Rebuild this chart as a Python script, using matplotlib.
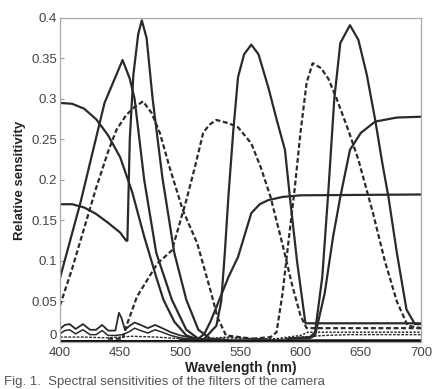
import matplotlib
matplotlib.use("Agg")
import matplotlib.pyplot as plt

plt.rcParams['font.family'] = ['Liberation Sans', 'DejaVu Sans']

# ---- data (wavelength nm, relative sensitivity) ----
a_x = [400, 410, 420, 430, 440, 450, 460, 470, 480, 486, 495, 505, 515, 530, 700]
a_y = [0.295, 0.294, 0.288, 0.275, 0.255, 0.228, 0.185, 0.13, 0.08, 0.052, 0.025, 0.008, 0.003, 0.002, 0.002]

b_x = [400, 410, 420, 430, 440, 450, 455, 456, 458, 461, 465, 468, 472, 477, 485, 495, 505, 515, 525, 540]
b_y = [0.17, 0.17, 0.166, 0.158, 0.147, 0.135, 0.125, 0.125, 0.25, 0.33, 0.38, 0.397, 0.375, 0.30, 0.204, 0.11, 0.052, 0.015, 0.004, 0.002]

c_x = [400, 417, 437, 452, 458, 462, 470, 480, 493, 505, 515, 530]
c_y = [0.079, 0.172, 0.295, 0.348, 0.325, 0.30, 0.20, 0.11, 0.052, 0.015, 0.004, 0.002]

d_x = [400, 410, 420, 430, 440, 447, 455, 462, 469, 476, 483, 491, 502, 514, 525, 531, 538, 560]
d_y = [0.045, 0.09, 0.14, 0.19, 0.235, 0.262, 0.28, 0.29, 0.297, 0.283, 0.258, 0.216, 0.163, 0.122, 0.064, 0.03, 0.008, 0.004]

e_x = [440, 452, 456, 464, 481, 493, 505, 512, 519, 524, 530, 540, 548, 559, 567, 575, 585, 593, 600, 605, 700]
e_y = [0.004, 0.004, 0.023, 0.056, 0.097, 0.113, 0.175, 0.215, 0.258, 0.268, 0.274, 0.27, 0.265, 0.245, 0.215, 0.179, 0.12, 0.07, 0.032, 0.017, 0.017]

f_x = [520, 530, 534, 537, 540, 544, 548, 553, 559, 565, 573, 580, 587, 591, 597, 604, 700]
f_y = [0.004, 0.02, 0.05, 0.11, 0.18, 0.26, 0.327, 0.355, 0.367, 0.355, 0.315, 0.275, 0.237, 0.18, 0.10, 0.023, 0.023]

g_x = [560, 575, 580, 585, 590, 595, 600, 605, 610, 617, 623, 630, 640, 648, 660, 670, 680, 689, 700]
g_y = [0.004, 0.006, 0.012, 0.06, 0.125, 0.188, 0.26, 0.32, 0.344, 0.338, 0.325, 0.30, 0.26, 0.225, 0.16, 0.10, 0.05, 0.02, 0.017]

h_x = [590, 608, 612, 618, 623, 628, 633, 641, 648, 655, 662, 668, 673, 680, 688, 695, 700]
h_y = [0.004, 0.006, 0.012, 0.08, 0.185, 0.30, 0.369, 0.391, 0.373, 0.33, 0.274, 0.22, 0.179, 0.11, 0.04, 0.022, 0.022]

i_x = [590, 608, 612, 620, 627, 633, 641, 650, 662, 680, 700]
i_y = [0.004, 0.005, 0.008, 0.06, 0.13, 0.179, 0.237, 0.258, 0.272, 0.277, 0.278]

j_x = [500, 515, 520, 525, 530, 540, 548, 559, 566, 573, 585, 600, 700]
j_y = [0.003, 0.004, 0.01, 0.025, 0.043, 0.08, 0.105, 0.159, 0.17, 0.175, 0.179, 0.181, 0.182]

# low tails (blue region leakage of long-wave channels)
t1_x = [400, 404, 408, 413, 419, 425, 430, 435, 440, 446, 449, 451, 454, 458, 462, 467, 473, 479, 485, 492, 500, 510, 520]
t1_y = [0.016, 0.021, 0.022, 0.016, 0.022, 0.015, 0.015, 0.021, 0.014, 0.014, 0.036, 0.03, 0.015, 0.02, 0.024, 0.021, 0.017, 0.021, 0.017, 0.012, 0.008, 0.005, 0.003]
t2_x = [400, 404, 408, 413, 419, 425, 430, 435, 440, 446, 452, 458, 462, 467, 473, 479, 485, 492, 500, 510]
t2_y = [0.01, 0.014, 0.015, 0.01, 0.015, 0.009, 0.009, 0.014, 0.008, 0.008, 0.009, 0.013, 0.017, 0.014, 0.011, 0.015, 0.012, 0.008, 0.005, 0.003]
t3_x = [400, 420, 440, 460, 480, 500, 520, 540, 560, 580, 600, 620, 640, 660, 680, 700]
t3_y = [0.006, 0.006, 0.005, 0.007, 0.006, 0.004, 0.003, 0.005, 0.004, 0.003, 0.006, 0.008, 0.009, 0.009, 0.009, 0.009]
t4_x = [520, 540, 560, 580, 600, 606, 620, 640, 660, 680, 700]
t4_y = [0.004, 0.006, 0.004, 0.004, 0.008, 0.012, 0.012, 0.012, 0.012, 0.012, 0.012]

x_ticks = [400, 450, 500, 550, 600, 650, 700]
y_ticks = [0, 0.05, 0.1, 0.15, 0.2, 0.25, 0.3, 0.35, 0.4]
y_tick_labels = ['0', '0.05', '0.1', '0.15', '0.2', '0.25', '0.3', '0.35', '0.4']

# ---- plot ----
fig = plt.figure(figsize=(4.38, 3.89), dpi=100)
ax = fig.add_axes([0.137, 0.121, 0.824, 0.833])

lc = '#2a2a2a'
solid = dict(color=lc, lw=1.6, ls='-')
dashed = dict(color=lc, lw=1.6, ls=(0, (2.2, 1.2)))

for xs, ys in [(a_x, a_y), (b_x, b_y), (c_x, c_y), (f_x, f_y), (h_x, h_y), (i_x, i_y), (j_x, j_y)]:
    ax.plot(xs, ys, **solid)
for xs, ys in [(d_x, d_y), (e_x, e_y), (g_x, g_y)]:
    ax.plot(xs, ys, **dashed)

ax.plot(t1_x, t1_y, color=lc, lw=1.3)
ax.plot(t2_x, t2_y, color=lc, lw=1.1)
ax.plot(t3_x, t3_y, color=lc, lw=1.0, ls=(0, (2, 1)))
ax.plot(t4_x, t4_y, color=lc, lw=1.1, ls=(0, (1.5, 1)))
ax.plot([400, 700], [0.0015, 0.0015], color='#111111', lw=2.2)

ax.set_xlim(400, 700)
ax.set_ylim(0, 0.4)
ax.set_xticks(x_ticks)
ax.set_yticks(y_ticks)
ax.set_yticklabels(y_tick_labels)
ax.tick_params(direction='in', length=3, color='#999999', labelsize=9.5, labelcolor='#444444', pad=2)
ax.tick_params(axis='x', pad=4)
ax.get_yticklabels()[0].set_va('bottom')
for s in ax.spines.values():
    s.set_color('#aaaaaa')
    s.set_linewidth(0.9)

ax.set_xlabel('Wavelength (nm)', fontsize=10, fontweight='bold', color='#222222', labelpad=1)
ax.set_ylabel('Relative sensitivity', fontsize=9.5, fontweight='bold', color='#222222', labelpad=4)

fig.text(0.01, 0.018, 'Fig. 1.  Spectral sensitivities of the filters of the camera',
         fontsize=9.5, color='#555555', ha='left', va='center')

fig.savefig('out.png', dpi=100)
